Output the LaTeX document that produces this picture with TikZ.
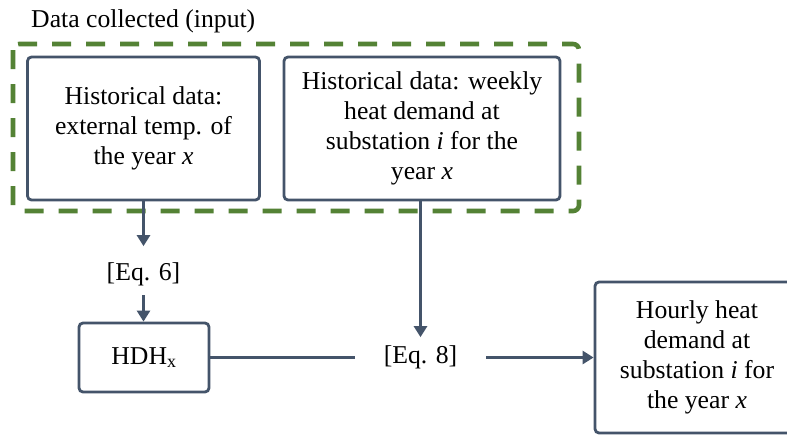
\documentclass[tikz,border=0pt]{standalone}
\usepackage{fontspec}
\setmainfont{Liberation Serif}
\newfontfamily\boxfont{Liberation Serif}
\usetikzlibrary{arrows.meta}
\definecolor{slate}{HTML}{44546A}
\definecolor{leaf}{HTML}{548235}
\tikzset{
  txt/.style={font=\boxfont\fontsize{25.7}{30}\selectfont, align=center, text=black},
  stepbox/.style={txt, draw=slate, line width=2.8pt, rounded corners=4pt, fill=white, inner sep=0pt},
  eqlabel/.style={txt, inner sep=0pt},
  link/.style={draw=slate, line width=2.6pt},
  arr/.style={link, -{Triangle[length=11pt,width=13pt]}},
  group/.style={draw=leaf, line width=4.6pt, dash pattern=on 19pt off 15pt, rounded corners=6pt}
}
\begin{document}
\begin{tikzpicture}[x=1pt, y=-1pt]
  \clip (0,0) rectangle (787,437);
  \fill[white] (0,0) rectangle (787,437);

  % input group
  \draw[group] (13,44) rectangle (579,211);
  \node[txt, anchor=base west, inner sep=0pt] (title) at (31,27.5) {Data collected (input)};

  % input boxes
  \node[stepbox, minimum width=232pt, minimum height=143pt] (temp) at (143.5,128.5)
    {Historical data:\\external temp. of\\the year \textit{x}};
  \node[stepbox, minimum width=276pt, minimum height=143pt] (weekly) at (422,128.5)
    {Historical data: weekly\\heat demand at\\substation \textit{i} for the\\year \textit{x}};

  % equations and results
  \node[eqlabel] (eqsix) at (143.5,274) {[Eq. 6]};
  \node[stepbox, minimum width=130pt, minimum height=69pt] (hdh) at (144,357.5)
    {HDH\textsubscript{x}};
  \node[eqlabel] (eqeight) at (420.5,357.5) {[Eq. 8]};
  \node[stepbox, minimum width=204pt, minimum height=151pt] (hourly) at (697,357.5)
    {Hourly heat\\demand at\\substation \textit{i} for\\the year \textit{x}};

  % connectors
  \draw[arr, shorten >=16pt] (temp.south -| eqsix) -- (eqsix.north);
  \draw[arr, shorten <=9.5pt] (eqsix.south) -- (hdh.north -| eqsix);
  \draw[arr, shorten >=8.5pt] (weekly.south -| eqeight) -- (eqeight.north);
  \draw[link, shorten >=29pt] (hdh.east) -- (eqeight.west);
  \draw[arr, shorten <=29pt] (eqeight.east) -- (hourly.west);
\end{tikzpicture}
\end{document}
